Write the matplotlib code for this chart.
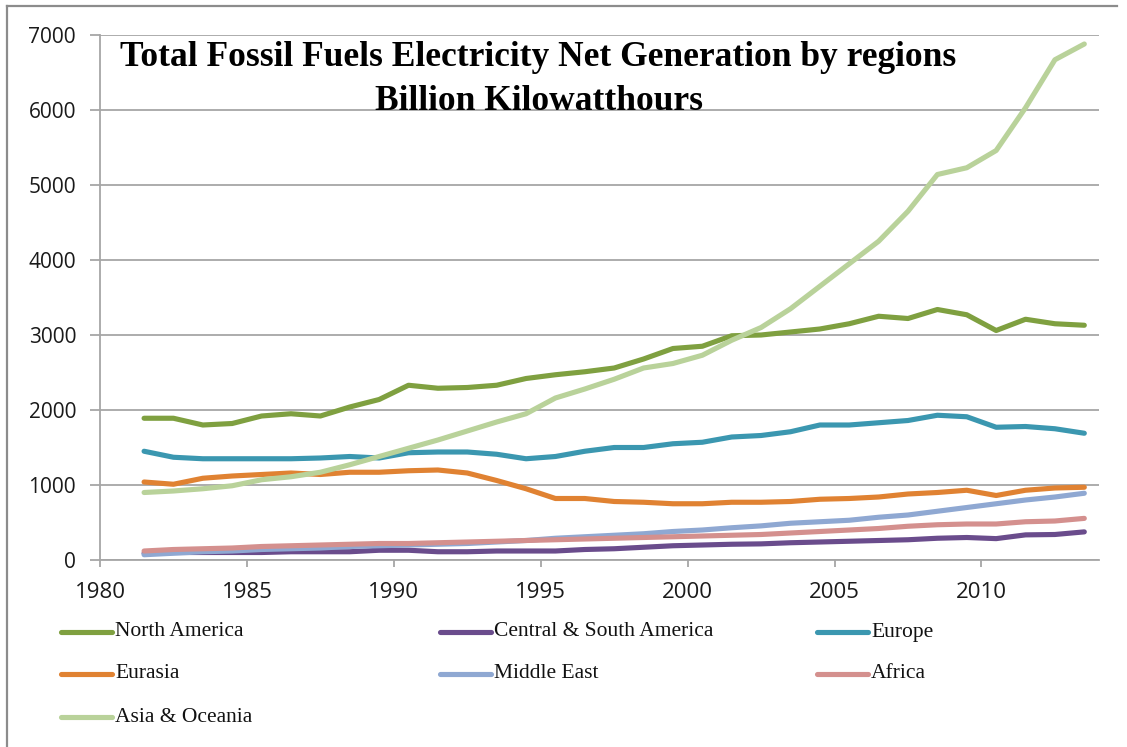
import matplotlib as mpl
mpl.use('Agg')
import matplotlib.pyplot as plt
from matplotlib.lines import Line2D
import numpy as np

# annual net generation, billion kWh
years = np.arange(1981, 2014)

north_america = [1890, 1890, 1800, 1820, 1920, 1950, 1920, 2040, 2140, 2330,
                 2290, 2300, 2330, 2420, 2470, 2510, 2560, 2680, 2820, 2850,
                 2990, 3000, 3040, 3080, 3150, 3250, 3220, 3340, 3270, 3060,
                 3210, 3150, 3130]
central_south_america = [90, 100, 100, 100, 100, 110, 110, 110, 130, 130,
                         110, 110, 120, 120, 120, 140, 150, 170, 190, 200,
                         210, 215, 230, 240, 250, 260, 270, 290, 300, 285,
                         335, 340, 375]
europe = [1450, 1370, 1350, 1350, 1350, 1350, 1360, 1380, 1360, 1430,
          1440, 1440, 1410, 1350, 1380, 1450, 1500, 1500, 1550, 1570,
          1640, 1660, 1710, 1800, 1800, 1830, 1860, 1930, 1910, 1770,
          1780, 1750, 1690]
eurasia = [1040, 1010, 1090, 1120, 1140, 1160, 1140, 1170, 1170, 1190,
           1200, 1160, 1060, 950, 820, 820, 780, 770, 750, 750,
           770, 770, 780, 810, 820, 840, 880, 900, 930, 860,
           930, 960, 970]
middle_east = [70, 90, 110, 120, 140, 150, 160, 180, 190, 200,
               210, 220, 240, 260, 290, 310, 330, 350, 380, 400,
               430, 455, 490, 510, 530, 570, 600, 650, 700, 750,
               800, 840, 890]
africa = [120, 140, 150, 160, 180, 190, 200, 210, 220, 220,
          230, 240, 250, 260, 270, 280, 290, 300, 310, 320,
          330, 340, 360, 380, 400, 420, 450, 470, 480, 480,
          510, 520, 555]
asia_oceania = [900, 920, 950, 990, 1070, 1110, 1170, 1270, 1380, 1490,
                1600, 1720, 1840, 1950, 2160, 2280, 2410, 2560, 2620, 2730,
                2930, 3100, 3350, 3650, 3950, 4250, 4650, 5140, 5230, 5460,
                6030, 6670, 6880]

regions = ['North America', 'Central & South America', 'Europe',
           'Eurasia', 'Middle East', 'Africa', 'Asia & Oceania']
series = [north_america, central_south_america, europe,
          eurasia, middle_east, africa, asia_oceania]
colors = ['#7fa040', '#6a4c8c', '#3b97b0', '#e08232',
          '#8fa8d2', '#d4908e', '#b9d29a']

W, H = 1127, 747
fig = plt.figure(figsize=(W / 100, H / 100), dpi=100)
ax = fig.add_axes([100 / W, 187 / H, 999 / W, 525 / H])

# each annual total is drawn at the middle of its year
for name, vals, c in zip(regions, series, colors):
    ax.plot(years + 0.5, vals, color=c, lw=3.7, label=name,
            solid_joinstyle='round', solid_capstyle='round')

grid_c = '#a6a6a6'
ax.set_xlim(1980, 2014)
ax.set_ylim(0, 7000)
ax.set_xticks(range(1980, 2011, 5))
ax.set_yticks(range(0, 7001, 1000))
ax.grid(axis='y', color=grid_c, lw=1.3)
ax.set_axisbelow(True)
for s in ['top', 'right']:
    ax.spines[s].set_visible(False)
for s in ['left', 'bottom']:
    ax.spines[s].set_color(grid_c)
    ax.spines[s].set_linewidth(1.3)
ax.tick_params(axis='y', direction='out', length=7.2, width=1.3,
               color=grid_c, pad=10, labelsize=15, labelcolor='#1a1a1a')
ax.tick_params(axis='x', direction='out', length=5, width=1.3,
               color=grid_c, pad=11, labelsize=16, labelcolor='#1a1a1a')
for lab in ax.get_xticklabels() + ax.get_yticklabels():
    lab.set_family('Open Sans')

# two-line title inside the plot area
title_font = dict(family='Liberation Serif', weight='bold', fontsize=25.5,
                  ha='center', va='center')
fig.text(538 / W, 1 - 58 / H,
         'Total Fossil Fuels Electricity Net Generation by regions', **title_font)
fig.text(539 / W, 1 - 101 / H, 'Billion Kilowatthours', **title_font)

# legend laid out in a fixed 3-column grid under the axis
col_x = [61, 440, 817]
row_y = [632, 674, 717]
for i, (name, c) in enumerate(zip(regions, colors)):
    x0 = col_x[i % 3]
    y0 = 1 - row_y[i // 3] / H
    fig.add_artist(Line2D([x0 / W, (x0 + 51) / W], [y0, y0], color=c,
                          lw=3.7, solid_capstyle='round'))
    fig.text((x0 + 54) / W, y0, name, family='Liberation Serif',
             fontsize=15.5, ha='left', va='center', color='#111111')

# chart frame
frame_c = '#8c8c8c'
fig.add_artist(Line2D([7 / W, 7 / W], [0, 1 - 6 / H], color=frame_c, lw=1.6))
fig.add_artist(Line2D([7 / W, 1117 / W], [1 - 6 / H, 1 - 6 / H],
                      color=frame_c, lw=1.6))

fig.savefig('out.png', dpi=100)
